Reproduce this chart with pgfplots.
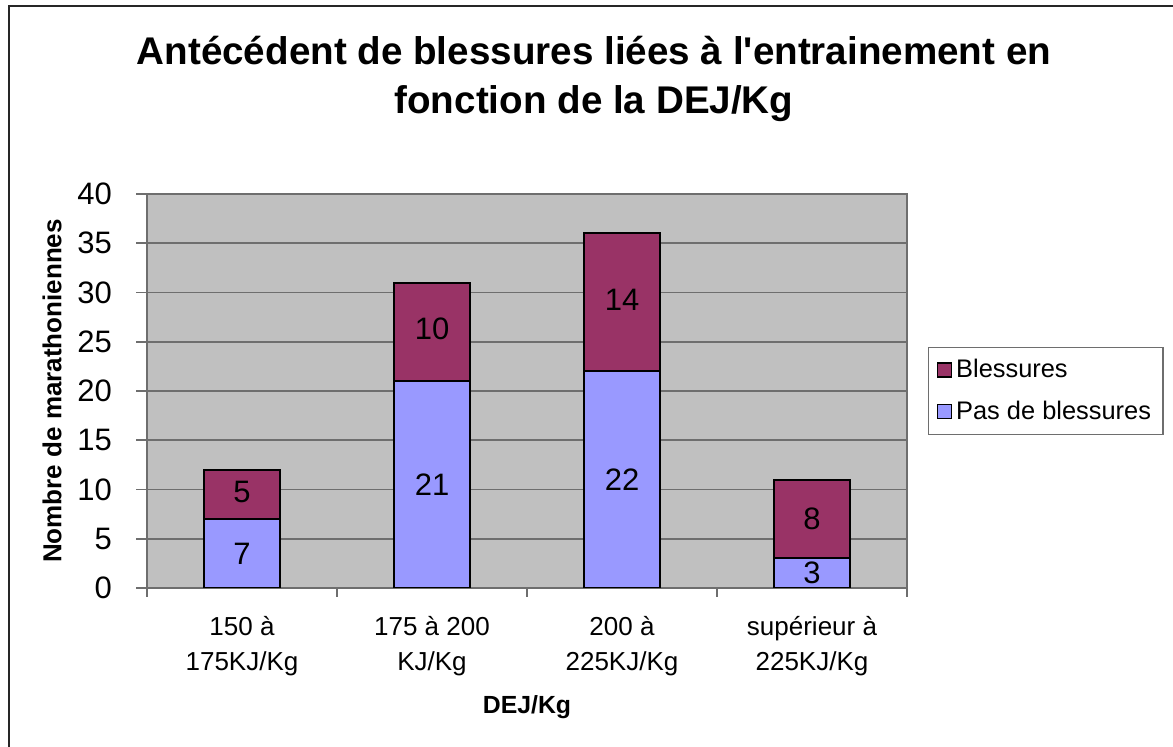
\documentclass[border=0pt]{standalone}
\usepackage{pgfplots}
\pgfplotsset{compat=1.18}
\usepackage{fontspec}
\setmainfont{Liberation Sans}
\definecolor{barblue}{HTML}{9999FF}
\definecolor{barred}{HTML}{993366}
\definecolor{plotbg}{HTML}{C0C0C0}
\definecolor{gridc}{HTML}{6E6E6E}
\begin{document}
\begin{tikzpicture}[x=0.5pt,y=0.5pt]
\path[use as bounding box] (0,0) rectangle (1173,747);
% outer frame (right and bottom edges fall outside the picture)
\draw[line width=1pt, black!85] (8.5,-10) -- (8.5,740.5) -- (1190,740.5);
% title
\node[font=\bfseries\fontsize{19.3}{24.5}\selectfont, align=center] at (594,668) {Antécédent de blessures liées à l\textquotesingle entrainement en\\fonction de la DEJ/Kg};
\begin{axis}[
  at={(73.5pt,79.5pt)}, anchor=south west,
  scale only axis, width=380pt, height=197pt,
  xmin=0.5, xmax=4.5, ymin=0, ymax=40,
  ybar stacked, bar width=38pt,
  axis background/.style={fill=plotbg},
  axis line style={gridc, line width=0.8pt},
  ytick={0,5,...,40},
  /pgf/number format/assume math mode=true,
  ymajorgrids, major grid style={gridc, line width=0.8pt},
  xtick={1,2,3,4},
  xticklabels={{150 à\\175KJ/Kg},{175 à 200\\KJ/Kg},{200 à\\225KJ/Kg},{supérieur à\\225KJ/Kg}},
  x tick label style={align=center, font=\fontsize{13}{17.5}\selectfont, yshift=-5pt},
  y tick label style={font=\fontsize{15.5}{18}\selectfont, xshift=-8.5pt},
  minor xtick={0.5,1.5,2.5,3.5,4.5},
  xtick pos=bottom, ytick pos=left,
  tick align=outside,
  major tick length=5.5pt, minor tick length=4.5pt,
  major x tick style={draw=none},
  tick style={gridc, line width=0.8pt},
  xlabel={\bfseries DEJ/Kg},
  xlabel style={font=\fontsize{12.4}{15}\selectfont, at={(rel axis cs:0.5,0)}, anchor=center, yshift=-59.5pt},
  ylabel={\bfseries Nombre de marathoniennes},
  ylabel style={font=\fontsize{13}{15}\selectfont},
  ylabel shift=1pt,
  reverse legend,
  legend style={at={(rel axis cs:1.0276,0.6117)}, anchor=north west,
    draw=gridc, line width=0.6pt, font=\fontsize{12.7}{15}\selectfont,
    row sep=6pt, inner xsep=4pt, inner ysep=4pt, fill=white},
  legend cell align=left,
  legend image code/.code={\draw[#1, draw=black, line width=0.8pt] (0pt,-3.5pt) rectangle (7pt,3.5pt);},
]
\addplot[fill=barblue, draw=black, line width=1pt] coordinates {(1,7) (2,21) (3,22) (4,3)};
\addlegendentry{Pas de blessures}
\addplot[fill=barred, draw=black, line width=1pt] coordinates {(1,5) (2,10) (3,14) (4,8)};
\addlegendentry{Blessures}
\end{axis}
\begin{axis}[
  at={(73.5pt,79.5pt)}, anchor=south west,
  scale only axis, width=380pt, height=197pt,
  xmin=0.5, xmax=4.5, ymin=0, ymax=40,
  hide axis,
]
\addplot[draw=none, nodes near coords, point meta=explicit symbolic,
  every node near coord/.style={anchor=center, font=\fontsize{15.5}{18}\selectfont}]
  table[meta=label] {
x y label
1 3.5 7
1 9.7 5
2 10.5 21
2 26.3 10
3 11 22
3 29.3 14
4 1.5 3
4 7 8
};
\end{axis}
\end{tikzpicture}
\end{document}
